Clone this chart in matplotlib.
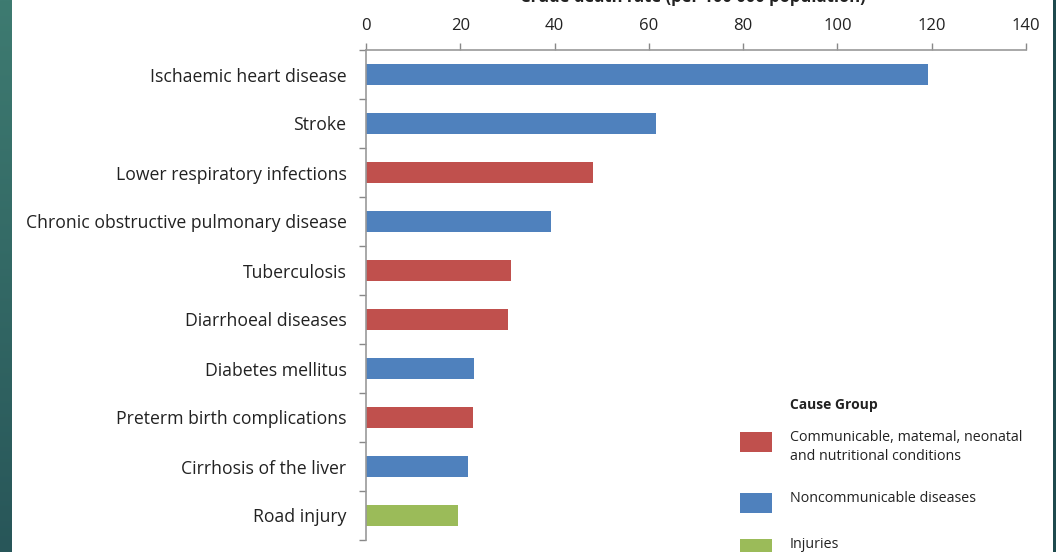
import numpy as np
import matplotlib
matplotlib.use('Agg')
import matplotlib.pyplot as plt
from matplotlib.patches import Rectangle

# data, top to bottom
causes = ['Ischaemic heart disease', 'Stroke', 'Lower respiratory infections',
          'Chronic obstructive pulmonary disease', 'Tuberculosis', 'Diarrhoeal diseases',
          'Diabetes mellitus', 'Preterm birth complications', 'Cirrhosis of the liver',
          'Road injury']
rates = [119.3, 61.5, 48.1, 39.2, 30.8, 30.1, 22.9, 22.6, 21.6, 19.6]
groups = ['N', 'N', 'C', 'N', 'C', 'C', 'N', 'C', 'N', 'I']
x_ticks = [0, 20, 40, 60, 80, 100, 120, 140]

group_order = ['C', 'N', 'I']
group_colors = {'C': '#C0504D', 'N': '#4F81BD', 'I': '#9BBB59'}
group_labels = {'C': 'Communicable, matemal, neonatal\nand nutritional conditions',
                'N': 'Noncommunicable diseases',
                'I': 'Injuries'}

plt.rcParams['font.family'] = ['Open Sans', 'DejaVu Sans']

W, H = 1056, 552
fig = plt.figure(figsize=(W / 100, H / 100), dpi=100)
fig.patch.set_facecolor('white')


def fx(px):
    return px / W


def fy(py):
    return 1 - py / H


# teal slide stripe on the left edge, thin dark one on the right
stripe = fig.add_axes([0, 0, fx(12), 1])
grad = np.linspace(0, 1, 256).reshape(-1, 1)
stripe.imshow(grad, aspect='auto', extent=[0, 1, 0, 1],
              cmap=matplotlib.colors.LinearSegmentedColormap.from_list('teal', ['#3E7B71', '#285659']))
stripe.axis('off')
fig.add_artist(Rectangle((fx(1053), 0), fx(3), 1, transform=fig.transFigure,
                         facecolor='#1F4A4E', edgecolor='none'))

ax = fig.add_axes([fx(366), fy(540), fx(660), 490 / H])
y = np.arange(len(causes))
colors = [group_colors[g] for g in groups]
ax.barh(y, rates, height=0.41, color=colors)

ax.set_xlim(0, 140)
ax.set_ylim(len(causes) - 0.5, -0.5)
ax.xaxis.tick_top()
ax.set_xticks(x_ticks)
ax.set_xticklabels([str(t) for t in x_ticks], fontsize=12, color='#222222')
ax.tick_params(axis='x', length=5, width=1, color='#888888', pad=6.5)

ax.set_yticks(y)
ax.set_yticklabels(causes, fontsize=12.7, color='#222222')
ax.tick_params(axis='y', which='major', length=0, pad=14)
ax.set_yticks(np.arange(len(causes) + 1) - 0.5, minor=True)
ax.tick_params(axis='y', which='minor', length=5, width=1, color='#888888')

for side in ['right', 'bottom']:
    ax.spines[side].set_visible(False)
for side in ['top', 'left']:
    ax.spines[side].set_color('#999999')
    ax.spines[side].set_linewidth(1.2)

# axis title, mostly cut off by the top of the slide
fig.text(fx(693), fy(2), 'Crude death rate (per 100 000 population)',
         ha='center', va='baseline', fontsize=12, fontweight='bold', color='#222222')

# legend
fig.text(fx(790), fy(405), 'Cause Group', ha='left', va='center',
         fontsize=10, fontweight='bold', color='#222222')
entry_tops = [432, 493, 539]
for g, top in zip(group_order, entry_tops):
    fig.add_artist(Rectangle((fx(740), fy(top + 20)), fx(32), 20 / H,
                             transform=fig.transFigure, facecolor=group_colors[g],
                             edgecolor='none'))
    fig.text(fx(790), fy(top - 2), group_labels[g], ha='left', va='top',
             fontsize=10.3, color='#222222', linespacing=1.4)

fig.savefig('out.png', dpi=100)
